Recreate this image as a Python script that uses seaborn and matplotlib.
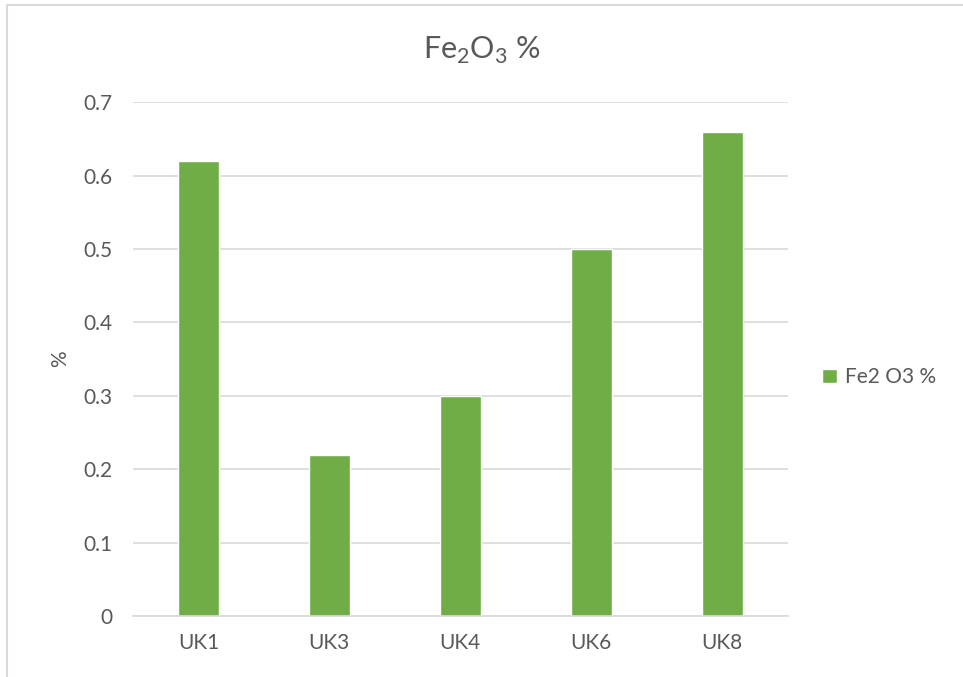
import matplotlib
matplotlib.use("Agg")
import matplotlib.pyplot as plt
from matplotlib.lines import Line2D
import seaborn as sns
import pandas as pd

samples = ["UK1", "UK3", "UK4", "UK6", "UK8"]
fe2o3_pct = [0.62, 0.22, 0.30, 0.50, 0.66]
series_name = "Fe2 O3 %"
y_ticks = [0, 0.1, 0.2, 0.3, 0.4, 0.5, 0.6, 0.7]
y_tick_labels = ["0", "0.1", "0.2", "0.3", "0.4", "0.5", "0.6", "0.7"]

sns.set_theme(style="white")
plt.rcParams["font.family"] = ["Lato", "DejaVu Sans"]

text_color = "#595959"
grid_color = "#D9D9D9"
bar_color = "#70AD47"

df = pd.DataFrame({"sample": samples, "value": fe2o3_pct, "series": series_name})

fig = plt.figure(figsize=(9.63, 6.77), dpi=100)
ax = fig.add_axes([0.138, 0.090, 0.680, 0.759])

sns.barplot(data=df, x="sample", y="value", hue="series", palette=[bar_color],
            width=0.31, ax=ax, saturation=1, legend=True)

ax.set_ylim(0, 0.7)
ax.set_yticks(y_ticks)
ax.set_yticklabels(y_tick_labels)
ax.set_xlim(-0.5, len(samples) - 0.5)
ax.yaxis.grid(True, color=grid_color, linewidth=1.2)
ax.set_axisbelow(True)
for side in ["top", "right", "left"]:
    ax.spines[side].set_visible(False)
ax.spines["bottom"].set_color(grid_color)
ax.spines["bottom"].set_linewidth(1.2)
ax.tick_params(axis="both", length=0, labelsize=15, colors=text_color)
ax.tick_params(axis="y", pad=15)
ax.tick_params(axis="x", pad=12)
ax.set_xlabel("")
ax.set_ylabel("%", fontsize=15, color=text_color, labelpad=9)

leg = ax.legend(loc="center left", bbox_to_anchor=(0.845, 0.443),
                bbox_transform=fig.transFigure, frameon=False,
                fontsize=15, handlelength=0.7, handleheight=0.7,
                handletextpad=0.4, borderaxespad=0)
for t in leg.get_texts():
    t.set_color(text_color)

fig.text(0.5, 0.926, r"Fe$_\mathregular{2}$O$_\mathregular{3}$ %", ha="center", va="center",
         fontsize=22, color=text_color)

# chart frame edges
fig.add_artist(Line2D([6.5 / 963, 1], [1 - 4.5 / 677, 1 - 4.5 / 677],
                      transform=fig.transFigure, color=grid_color, linewidth=1.5))
fig.add_artist(Line2D([6.5 / 963, 6.5 / 963], [0, 1 - 4.5 / 677],
                      transform=fig.transFigure, color=grid_color, linewidth=1.5))

fig.savefig("out.png", dpi=100, facecolor="white")
